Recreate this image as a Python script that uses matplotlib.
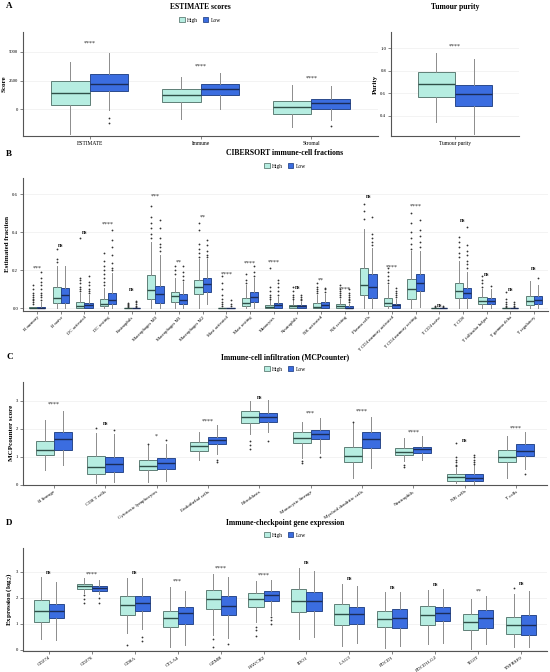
import numpy as np
import matplotlib
matplotlib.use("Agg")
import matplotlib.pyplot as plt
from matplotlib.patches import Patch

plt.rcParams['font.family'] = ['Liberation Serif', 'DejaVu Serif']

# ---------------- DATA (five-number summaries: whislo, q1, med, q3, whishi) ----------------
# Panel A: ESTIMATE scores
est_cats = ["ESTIMATE", "Immune", "Stromal"]
est_high = [(-2200, 350, 1420, 2470, 4100), (-900, 600, 1270, 1750, 2800), (-1600, -400, 150, 700, 2080)]
est_low = [(-100, 1550, 2200, 3050, 4940), (0, 1270, 1750, 2200, 3150), (-950, 50, 500, 900, 2030)]
est_high_fl = [[], [], []]
est_low_fl = [[-800, -1250], [], [-1450]]
est_sig = ["****", "****", "****"]
est_sig_y = [5800, 3750, 2700]

# Panel A: Tumour purity
pur_cats = ["Tumour purity"]
pur_high = [(0.347, 0.565, 0.68, 0.79, 0.96)]
pur_low = [(0.24, 0.49, 0.597, 0.67, 0.91)]
pur_sig = ["****"]
pur_sig_y = [1.02]

# Panel B: CIBERSORT
cib_cats = ["B memory", "B naive", "DC activated", "DC resting", "Eosinophils", "Macrophages M0",
            "Macrophages M1", "Macrophages M2", "Mast activated", "Mast resting", "Monocytes",
            "Neutrophils", "NK activated", "NK resting", "Plasma cells", "T CD4 memory activated",
            "T CD4 memory resting", "T CD4 naive", "T CD8", "T follicular helper", "T gamma delta",
            "T regulatory"]
cib_high = [(0, 0, 0, 0.003, 0.008), (0, 0.025, 0.051, 0.11, 0.22), (0, 0, 0.01, 0.03, 0.077),
            (0, 0.009, 0.021, 0.046, 0.104), (0, 0, 0, 0, 0), (0, 0.048, 0.097, 0.173, 0.35),
            (0, 0.03, 0.062, 0.086, 0.16), (0, 0.072, 0.113, 0.148, 0.26), (0, 0, 0, 0, 0),
            (0, 0.011, 0.026, 0.051, 0.121), (0, 0, 0.004, 0.016, 0.04), (0, 0.002, 0.011, 0.018, 0.04),
            (0, 0, 0.007, 0.028, 0.07), (0, 0.002, 0.009, 0.021, 0.05), (0, 0.069, 0.123, 0.21, 0.417),
            (0, 0.012, 0.028, 0.055, 0.12), (0, 0.046, 0.099, 0.155, 0.30), (0, 0, 0, 0, 0),
            (0, 0.053, 0.092, 0.13, 0.25), (0, 0.019, 0.039, 0.056, 0.10), (0, 0, 0, 0, 0),
            (0, 0.016, 0.037, 0.063, 0.143)]
cib_low = [(0, 0, 0, 0.004, 0.033), (0, 0.025, 0.069, 0.107, 0.22), (0, 0, 0.014, 0.028, 0.069),
           (0, 0.019, 0.042, 0.081, 0.183), (0, 0, 0, 0, 0), (0, 0.026, 0.074, 0.116, 0.28),
           (0, 0.021, 0.042, 0.072, 0.139), (0.02, 0.086, 0.125, 0.16, 0.26), (0, 0, 0, 0, 0),
           (0, 0.033, 0.06, 0.083, 0.16), (0, 0, 0.014, 0.025, 0.06), (0, 0.002, 0.009, 0.014, 0.03),
           (0, 0, 0.018, 0.032, 0.075), (0, 0, 0.002, 0.009, 0.02), (0, 0.055, 0.113, 0.18, 0.315),
           (0, 0, 0.014, 0.023, 0.05), (0.005, 0.09, 0.134, 0.18, 0.30), (0, 0, 0, 0, 0),
           (0, 0.051, 0.081, 0.107, 0.19), (0, 0.019, 0.039, 0.055, 0.10), (0, 0, 0, 0, 0),
           (0, 0.021, 0.04, 0.063, 0.121)]
cib_high_fl = [[0.02, 0.03, 0.04, 0.05, 0.06, 0.07, 0.08, 0.10, 0.12], [0.245, 0.26, 0.31],
               [0.09, 0.10, 0.11, 0.13, 0.15, 0.16, 0.37], [0.12, 0.14, 0.16, 0.18, 0.20, 0.22, 0.25, 0.29],
               [0.005, 0.01, 0.015, 0.02, 0.028], [0.37, 0.39, 0.42, 0.45, 0.48, 0.54],
               [0.18, 0.20, 0.22], [0.27, 0.29, 0.31, 0.34, 0.41, 0.45],
               [0.01, 0.02, 0.03, 0.05, 0.07, 0.10, 0.13, 0.17], [0.13, 0.15, 0.18],
               [0.05, 0.06, 0.07, 0.09, 0.11, 0.21], [0.05, 0.06, 0.07, 0.09, 0.113],
               [0.08, 0.09, 0.10, 0.11, 0.13], [0.06, 0.07, 0.08, 0.09, 0.10, 0.12],
               [0.47, 0.51, 0.55], [0.13, 0.15, 0.17, 0.19, 0.21],
               [0.31, 0.34, 0.37, 0.40, 0.45, 0.50], [0.005, 0.01],
               [0.27, 0.29, 0.32, 0.35, 0.373], [0.11, 0.13, 0.15, 0.17],
               [0.005, 0.01, 0.02, 0.03, 0.05, 0.083], []]
cib_low_fl = [[0.045, 0.06, 0.07, 0.08, 0.10, 0.12, 0.14, 0.16, 0.19], [],
              [0.08, 0.09, 0.10, 0.12, 0.14, 0.17], [0.20, 0.21, 0.24, 0.28, 0.32, 0.36, 0.41],
              [0.005, 0.01, 0.02, 0.03, 0.037], [0.30, 0.32, 0.34, 0.37, 0.42, 0.465],
              [0.15, 0.17, 0.19, 0.22], [0.27, 0.28, 0.30, 0.33, 0.36],
              [0.01, 0.02, 0.04], [0.17, 0.19, 0.22],
              [0.07, 0.09, 0.11, 0.13, 0.148], [0.04, 0.05, 0.06, 0.07],
              [0.085, 0.10, 0.105], [0.03, 0.04, 0.05, 0.06, 0.07, 0.08, 0.10],
              [0.33, 0.35, 0.37, 0.39, 0.48], [0.06, 0.07, 0.08, 0.09, 0.104],
              [0.32, 0.35, 0.38, 0.41, 0.465], [0.005, 0.012],
              [0.21, 0.23, 0.25, 0.28, 0.30, 0.33, 0.43], [0.116],
              [0.005, 0.01, 0.02, 0.03], [0.157]]
cib_sig = ["***", "ns", "ns", "****", "ns", "***", "**", "**", "****", "****", "****",
           "ns", "**", "****", "ns", "****", "****", "ns", "ns", "ns", "ns", "ns"]
cib_sig_y = [0.21, 0.33, 0.40, 0.44, 0.10, 0.59, 0.24, 0.48, 0.18, 0.235, 0.24,
             0.11, 0.145, 0.10, 0.59, 0.215, 0.54, 0.012, 0.46, 0.176, 0.10, 0.21]

# Panel C: MCPcounter
mcp_cats = ["B lineage", "CD8 T cells", "Cytotoxic lymphocytes", "Endothelial cells", "Fibroblasts",
            "Monocytic lineage", "Myeloid dendritic cells", "Neutrophils", "NK cells", "T cells"]
mcp_high = [(0.52, 1.06, 1.24, 1.57, 2.31), (0.05, 0.40, 0.65, 1.04, 1.83), (0.11, 0.54, 0.67, 0.87, 1.42),
            (0.87, 1.20, 1.38, 1.52, 1.87), (1.80, 2.20, 2.42, 2.63, 2.99), (0.94, 1.50, 1.68, 1.88, 2.25),
            (0.23, 0.81, 1.04, 1.33, 2.19), (0.85, 1.05, 1.18, 1.30, 1.68), (0.05, 0.14, 0.26, 0.40, 0.61),
            (0.25, 0.80, 1.00, 1.24, 1.75)]
mcp_low = [(0.70, 1.24, 1.62, 1.87, 2.65), (0.08, 0.44, 0.73, 1.00, 1.80), (0.14, 0.56, 0.76, 0.94, 1.44),
           (1.11, 1.44, 1.58, 1.70, 2.15), (1.89, 2.23, 2.42, 2.56, 3.01), (1.15, 1.64, 1.81, 1.94, 2.39),
           (0.58, 1.30, 1.62, 1.87, 2.43), (0.89, 1.15, 1.26, 1.36, 1.74), (0.04, 0.15, 0.25, 0.37, 0.70),
           (0.55, 1.01, 1.21, 1.44, 1.87)]
mcp_high_fl = [[], [2.04], [1.46], [], [1.56, 1.42, 1.27], [0.86, 0.79], [2.23], [0.70, 0.62],
               [0.66, 0.72, 0.80, 0.90, 1.00, 1.48], []]
mcp_low_fl = [[], [1.95], [1.58], [0.90, 0.82], [1.56], [0.98], [], [],
              [0.75, 0.82, 0.90, 0.98, 1.05], [0.37]]
mcp_sig = ["****", "ns", "*", "****", "ns", "***", "****", "****", "ns", "****"]
mcp_sig_y = [2.87, 2.18, 1.75, 2.27, 3.13, 2.54, 2.63, 1.86, 1.57, 2.01]

# Panel D: immune checkpoint genes
icp_cats = ["CD274", "CD276", "CD8A", "CTLA4", "GZMB", "HAVCR2", "IDO1", "LAG3", "PDCD1",
            "PDCD1LG2", "TIGIT", "TNFRSF9"]
icp_high = [(0.41, 1.06, 1.49, 1.91, 2.81), (2.17, 2.32, 2.45, 2.53, 2.74), (0.64, 1.33, 1.72, 2.08, 2.77),
            (0.10, 0.89, 1.21, 1.51, 2.42), (0.57, 1.57, 1.96, 2.30, 2.90), (1.08, 1.63, 1.95, 2.17, 2.63),
            (0.41, 1.47, 1.86, 2.32, 3.14), (0.15, 0.94, 1.38, 1.77, 2.54), (0.08, 0.87, 1.17, 1.49, 2.23),
            (0.23, 0.97, 1.33, 1.68, 2.28), (0.05, 0.77, 1.07, 1.38, 1.94), (0.10, 0.60, 0.97, 1.28, 2.13)]
icp_low = [(0.38, 1.24, 1.49, 1.77, 2.60), (2.13, 2.27, 2.37, 2.46, 2.70), (0.79, 1.48, 1.81, 2.08, 2.77),
           (0.19, 1.00, 1.40, 1.66, 2.27), (0.45, 1.34, 1.68, 2.07, 2.78), (1.34, 1.88, 2.09, 2.26, 2.68),
           (0.48, 1.51, 1.89, 2.22, 3.04), (0.28, 1.00, 1.36, 1.65, 2.45), (0.15, 0.83, 1.24, 1.56, 2.21),
           (0.28, 1.12, 1.43, 1.66, 2.35), (0.23, 0.85, 1.24, 1.53, 2.07), (0.10, 0.59, 0.94, 1.33, 2.27)]
icp_high_fl = [[], [2.10, 1.96, 1.79], [0.19], [], [0.41, 0.13], [0.89, 0.77, 0.54], [], [], [], [], [], [2.36]]
icp_low_fl = [[], [1.98, 1.79], [0.51, 0.33], [], [0.23], [1.28, 1.15, 1.00], [], [], [], [], [], []]
icp_sig = ["ns", "****", "ns", "***", "****", "****", "ns", "ns", "ns", "ns", "**", "ns"]
icp_sig_y = [2.97, 2.90, 2.97, 2.64, 3.14, 2.87, 3.35, 2.73, 2.40, 2.51, 2.27, 2.54]

# ---------------- STYLE ----------------
HIGH_FC, HIGH_EC, HIGH_MED = "#b6ede1", "#5f7f77", "#2f4f48"
LOW_FC, LOW_EC, LOW_MED = "#3b6de0", "#2b4a8c", "#1b2c58"
WHISK = "#8c8c8c"
AXC = "#555555"

W, H = 550, 672
fig = plt.figure(figsize=(W / 100, H / 100), dpi=100)


def rect(x0, y0, x1, y1):
    return [x0 / W, 1 - y1 / H, (x1 - x0) / W, (y1 - y0) / H]


def make_stats(summ, fl):
    out = []
    for (lo, q1, med, q3, hi), f in zip(summ, fl):
        out.append(dict(whislo=lo, q1=q1, med=med, q3=q3, whishi=hi, fliers=f))
    return out


def draw(ax, cats, high, low, hfl, lfl, sig, sig_y, ylim, yticks, ylabels, ylabel,
         rot=45, xfs=3.6):
    n = len(cats)
    pos = np.arange(n)
    for summ, fl, off, fc, ec, mc in [(high, hfl, -0.175, HIGH_FC, HIGH_EC, HIGH_MED),
                                      (low, lfl, 0.175, LOW_FC, LOW_EC, LOW_MED)]:
        ax.bxp(make_stats(summ, fl), positions=pos + off, widths=0.35, patch_artist=True,
               showcaps=False, manage_ticks=False,
               boxprops=dict(facecolor=fc, edgecolor=ec, linewidth=0.7),
               medianprops=dict(color=mc, linewidth=1.0),
               whiskerprops=dict(color=WHISK, linewidth=0.7),
               flierprops=dict(marker='o', markersize=1.3, markerfacecolor='#333333',
                               markeredgecolor='none'))
    for i, (s, y) in enumerate(zip(sig, sig_y)):
        ax.text(i, y, s, ha='center', va='center', fontsize=4.2,
                fontweight='bold' if s == 'ns' else 'normal', color='#222222')
    ax.set_xlim(-0.6, n - 0.4)
    ax.set_ylim(*ylim)
    ax.set_yticks(yticks)
    ax.set_yticklabels(ylabels)
    ax.set_xticks(pos)
    if rot:
        ax.set_xticklabels(cats, rotation=rot, ha='right', rotation_mode='anchor', fontsize=xfs)
    else:
        ax.set_xticklabels(cats, fontsize=xfs)
    ax.set_ylabel(ylabel, fontsize=5, fontweight='bold', labelpad=1.5)
    for sp in ['top', 'right']:
        ax.spines[sp].set_visible(False)
    for sp in ['left', 'bottom']:
        ax.spines[sp].set_color(AXC)
        ax.spines[sp].set_linewidth(0.8)
    ax.tick_params(axis='both', length=2, width=0.5, color=AXC, pad=1.5)
    ax.tick_params(axis='y', labelsize=3.4)
    ax.yaxis.grid(True, color='#efefef', linewidth=0.5)
    ax.set_axisbelow(True)


def legend_at(xc, y):
    handles = [Patch(facecolor=HIGH_FC, edgecolor=HIGH_EC, linewidth=0.6, label='High'),
               Patch(facecolor=LOW_FC, edgecolor=LOW_EC, linewidth=0.6, label='Low')]
    fig.legend(handles=handles, loc='center', bbox_to_anchor=(xc / W, 1 - y / H), ncol=2,
               frameon=False, fontsize=4, handlelength=1.0, handleheight=0.9,
               handletextpad=0.4, columnspacing=0.8)


def ftext(x, y, s, **kw):
    fig.text(x / W, 1 - y / H, s, ha='center', va='center', **kw)


# Panel A
axA = fig.add_axes(rect(23, 32, 378, 136))
draw(axA, est_cats, est_high, est_low, est_high_fl, est_low_fl, est_sig, est_sig_y,
     (-2350, 6740), [0, 2500, 5000], ["0", "2500", "5000"], "Score", rot=0, xfs=4)
axP = fig.add_axes(rect(391, 32, 519, 136))
draw(axP, pur_cats, pur_high, pur_low, [[]], [[]], pur_sig, pur_sig_y,
     (0.22, 1.146), [0.4, 0.6, 0.8, 1.0], ["0.4", "0.6", "0.8", "1.0"], "Purity", rot=0, xfs=4)
ftext(200, 7, "ESTIMATE scores", fontsize=5.5, fontweight='bold')
legend_at(200, 20)
ftext(455, 7, "Tumour purity", fontsize=5.5, fontweight='bold')

# Panel B
axB = fig.add_axes(rect(23, 178, 548, 310.7))
draw(axB, cib_cats, cib_high, cib_low, cib_high_fl, cib_low_fl, cib_sig, cib_sig_y,
     (-0.014, 0.686), [0.0, 0.2, 0.4, 0.6], ["0.0", "0.2", "0.4", "0.6"], "Estimated fraction",
     rot=45, xfs=3.4)
ftext(285, 153, "CIBERSORT immune-cell fractions", fontsize=5.5, fontweight='bold')
legend_at(285, 166)

# Panel C
axC = fig.add_axes(rect(23, 381.7, 547, 485))
draw(axC, mcp_cats, mcp_high, mcp_low, mcp_high_fl, mcp_low_fl, mcp_sig, mcp_sig_y,
     (-0.01, 3.68), [0, 1, 2, 3], ["0", "1", "2", "3"], "MCPcounter score", rot=35, xfs=3.6)
ftext(285, 357, "Immune-cell infiltration (MCPcounter)", fontsize=5.5, fontweight='bold')
legend_at(285, 369)

# Panel D
axD = fig.add_axes(rect(23, 547.7, 547, 650.7))
draw(axD, icp_cats, icp_high, icp_low, icp_high_fl, icp_low_fl, icp_sig, icp_sig_y,
     (-0.03, 3.92), [0, 1, 2, 3], ["0", "1", "2", "3"], "Expression (log$_2$)", rot=35, xfs=3.6)
ftext(285, 523, "Immune-checkpoint gene expression", fontsize=5.5, fontweight='bold')
legend_at(285, 535)

# Panel letters
for lab, y in [("A", 6), ("B", 154), ("C", 357), ("D", 523)]:
    fig.text(6 / W, 1 - y / H, lab, ha='left', va='center', fontsize=6.5, fontweight='bold')

fig.savefig("out.png", dpi=100)
